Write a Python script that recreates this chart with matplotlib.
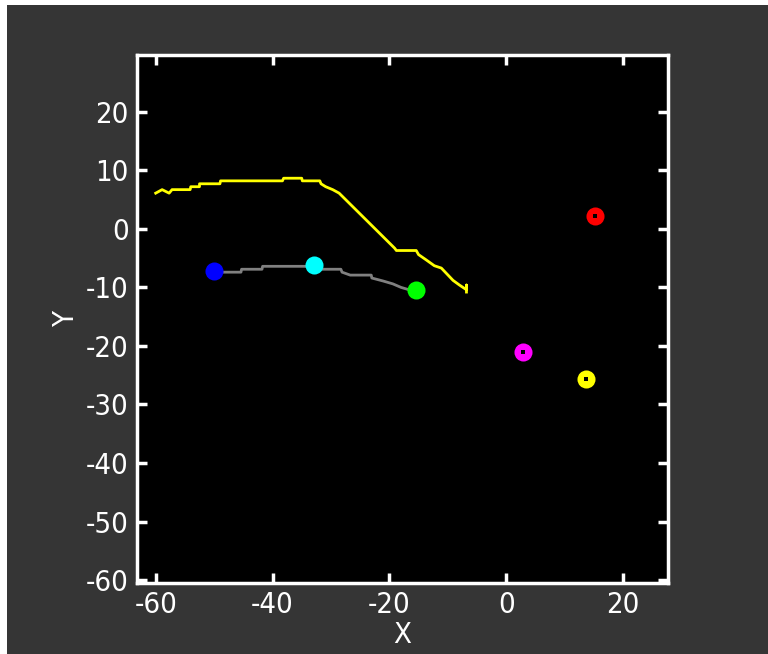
#!/usr/bin/env python3
"""
Track plot - trajectories and marker positions in X/Y
"""

import matplotlib
matplotlib.use('Agg')
import matplotlib.pyplot as plt
from matplotlib.patches import Rectangle

plt.rcParams['axes.unicode_minus'] = False
plt.rcParams['font.stretch'] = 'condensed'

# Yellow trajectory
track_x = [-60.0, -58.9, -57.7, -57.2, -54.1, -54.0, -52.5, -52.5, -49.0, -48.9,
           -38.3, -38.1, -35.0, -34.9, -31.9, -31.7, -30.9, -29.7, -28.6,
           -19.1, -18.8, -15.4, -15.0, -13.7, -12.3, -11.1, -9.1, -8.0, -6.8, -6.8, -6.8]
track_y = [6.1, 6.7, 6.1, 6.7, 6.7, 7.2, 7.2, 7.7, 7.7, 8.2,
           8.2, 8.65, 8.65, 8.2, 8.2, 7.7, 7.2, 6.7, 6.1,
           -3.3, -3.7, -3.7, -4.4, -5.3, -6.3, -6.7, -8.8, -9.6, -10.4, -9.6, -10.8]

# Gray path
path_x = [-50.0, -45.4, -45.3, -41.8, -41.7, -31.9, -31.7, -28.3, -28.1, -26.7,
          -23.1, -23.0, -21.1, -19.4, -18.0, -16.3, -15.1]
path_y = [-7.4, -7.4, -6.9, -6.9, -6.4, -6.4, -6.9, -6.9, -7.4, -7.9,
          -7.9, -8.4, -8.9, -9.4, -10.0, -10.5, -11.0]

# Plain markers
plain_x = [-50.0, -32.9, -15.4]
plain_y = [-7.2, -6.1, -10.5]
plain_colors = ['#0000ff', '#00ffff', '#00ff00']

# Markers with a black center
dot_x = [15.2, 2.8, 13.6]
dot_y = [2.2, -21.0, -25.6]
dot_colors = ['#ff0000', '#ff00ff', '#ffff00']

fig = plt.figure(figsize=(7.68, 6.54), dpi=100)
fig.patch.set_facecolor('#353535')

# white strips along top and left edges
fig.patches.append(Rectangle((0, 0), 7 / 768, 1, transform=fig.transFigure,
                             facecolor='white', edgecolor='none', zorder=-1))
fig.patches.append(Rectangle((0, 1 - 5 / 654), 1, 5 / 654, transform=fig.transFigure,
                             facecolor='white', edgecolor='none', zorder=-1))

ax = fig.add_axes([137 / 768, 1 - 583 / 654, 531 / 768, 528 / 654])
ax.set_facecolor('black')

ax.plot(track_x, track_y, color='#ffff00', linewidth=2)
ax.plot(path_x, path_y, color='#808080', linewidth=2)

for x, y, c in zip(plain_x, plain_y, plain_colors):
    ax.plot(x, y, 'o', color=c, markersize=13, markeredgewidth=0)
for x, y, c in zip(dot_x, dot_y, dot_colors):
    ax.plot(x, y, 'o', color=c, markersize=13, markeredgewidth=0)
    ax.plot(x, y, 's', color='black', markersize=2.5, markeredgewidth=0)

ax.set_xlim(-63.2, 27.7)
ax.set_ylim(-60.5, 29.7)
ax.set_xticks([-60, -40, -20, 0, 20])
ax.set_yticks([-60, -50, -40, -30, -20, -10, 0, 10, 20])

for s in ax.spines.values():
    s.set_color('white')
    s.set_linewidth(2.5)

ax.tick_params(direction='in', length=7, width=2.5, color='white',
               labelcolor='white', labelsize=21, top=True, right=True, pad=6)

ax.set_xlabel('X', color='white', fontsize=21, labelpad=1)
ax.set_ylabel('Y', color='white', fontsize=21, labelpad=4)

plt.savefig('out.png', dpi=100, facecolor=fig.get_facecolor())
